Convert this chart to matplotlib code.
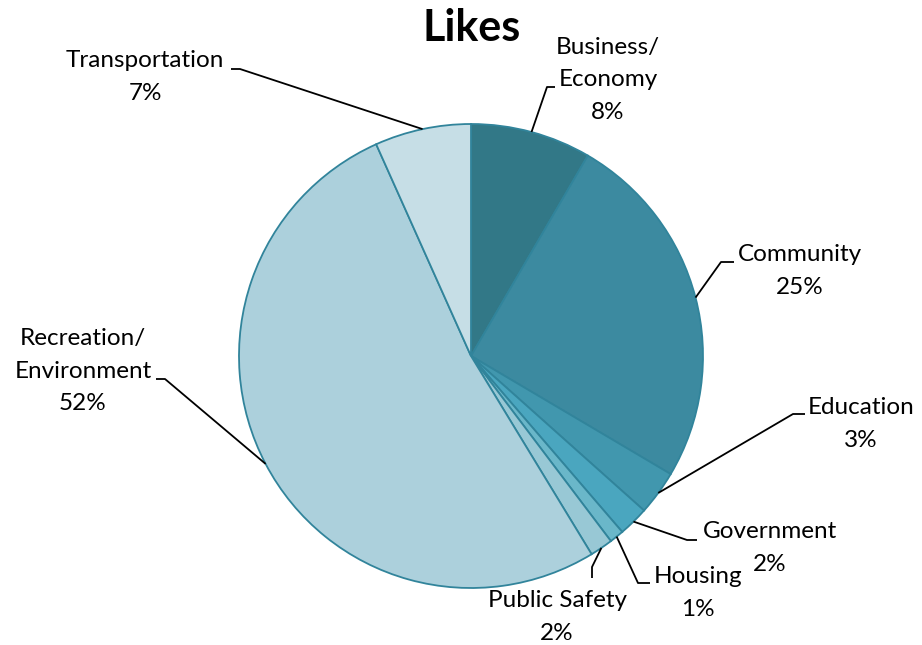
import numpy as np
import matplotlib.pyplot as plt

# datos del grafico
categorias = ["Business/\nEconomy", "Community", "Education", "Government",
              "Housing", "Public Safety", "Recreation/\nEnvironment", "Transportation"]
valores = [8.4, 25.1, 3.1, 2.1, 1.0, 1.6, 52.0, 6.7]
etiquetas_pct = ["8%", "25%", "3%", "2%", "1%", "2%", "52%", "7%"]
colores = ["#327887", "#3c8aa0", "#4197ae", "#4aa6bf", "#6ab7c9",
           "#98c8d5", "#acd0dc", "#c6dee6"]

# posiciones de etiquetas en pixeles (x, y desde arriba): texto, codo, fin
pos_texto = [(608, 80), (800, 271), (861, 424), (770, 548),
             (698, 593), (557, 617), (83, 371), (145, 77)]
pos_codo = [(547, 87), (721, 262), (793, 414), (687, 540),
            (638, 583), (592, 567), (165, 379), (240, 69)]
pos_fin = [(555, 87), (734, 262), (805, 414), (697, 540),
           (650, 583), (592, 578), (156, 379), (231, 69)]

W, H = 922, 645
centro = (471, H - 356)
radio = 232

plt.rcParams['font.family'] = ['Lato', 'DejaVu Sans']

fig = plt.figure(figsize=(W / 100, H / 100), dpi=100)
ax = fig.add_axes([0, 0, 1, 1])

cunas, _ = ax.pie(valores, colors=colores, startangle=90, counterclock=False,
                  center=centro, radius=radio,
                  wedgeprops=dict(edgecolor="#31849b", linewidth=1.3))
ax.set_xlim(0, W)
ax.set_ylim(0, H)
ax.set_aspect('equal')
ax.axis('off')

for i, c in enumerate(cunas):
    ang = np.deg2rad((c.theta1 + c.theta2) / 2)
    x0 = centro[0] + radio * np.cos(ang)
    y0 = centro[1] + radio * np.sin(ang)
    xs = [x0, pos_codo[i][0], pos_fin[i][0]]
    ys = [y0, H - pos_codo[i][1], H - pos_fin[i][1]]
    ax.plot(xs, ys, color="black", linewidth=1.3, solid_capstyle='butt')
    ax.text(pos_texto[i][0], H - pos_texto[i][1],
            categorias[i] + "\n" + etiquetas_pct[i],
            ha="center", va="center", multialignment="center",
            fontsize=17.5, linespacing=1.7, color="black")

ax.text(472, H - 28, "Likes", ha="center", va="center",
        fontsize=31, fontweight="bold", color="black")

plt.savefig("out.png", dpi=100)
